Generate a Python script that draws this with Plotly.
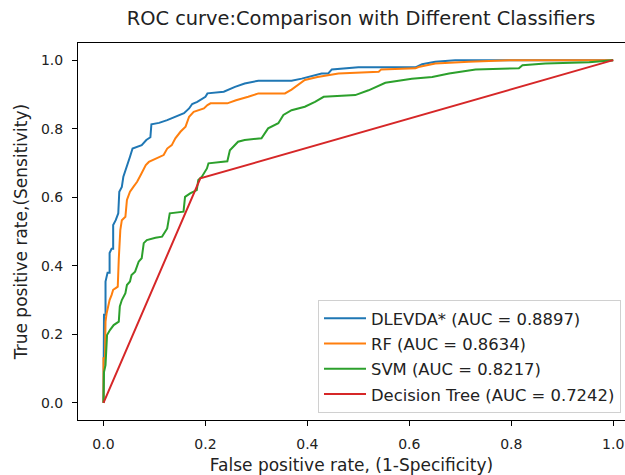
import plotly.graph_objects as go

# ---- data ----
dlevda_fpr = [0, 0, 0.001, 0.004, 0.004, 0.008, 0.012, 0.012, 0.016, 0.019, 0.019, 0.024, 0.029, 0.031,
              0.036, 0.039, 0.045, 0.052, 0.057, 0.066, 0.075, 0.084, 0.092, 0.094, 0.109, 0.125, 0.141,
              0.158, 0.168, 0.174, 0.184, 0.2, 0.204, 0.236, 0.258, 0.277, 0.304, 0.369, 0.389, 0.428,
              0.441, 0.448, 0.5, 0.612, 0.625, 0.651, 0.69, 1.0]
dlevda_tpr = [0, 0.13, 0.257, 0.257, 0.354, 0.38, 0.38, 0.437, 0.45, 0.45, 0.519, 0.533, 0.553, 0.616,
              0.63, 0.66, 0.684, 0.718, 0.742, 0.747, 0.752, 0.767, 0.775, 0.813, 0.817, 0.825, 0.835,
              0.845, 0.859, 0.872, 0.878, 0.893, 0.903, 0.908, 0.922, 0.932, 0.94, 0.94, 0.946, 0.961,
              0.961, 0.973, 0.979, 0.979, 0.988, 0.995, 1.0, 1.0]

rf_fpr = [0, 0, 0.003, 0.004, 0.006, 0.012, 0.016, 0.019, 0.024, 0.028, 0.03, 0.033, 0.036, 0.043,
          0.046, 0.052, 0.059, 0.066, 0.073, 0.083, 0.089, 0.102, 0.118, 0.125, 0.134, 0.141, 0.151,
          0.161, 0.168, 0.177, 0.197, 0.204, 0.21, 0.243, 0.26, 0.284, 0.304, 0.356, 0.369, 0.395,
          0.42, 0.461, 0.54, 0.545, 0.612, 0.618, 0.651, 0.717, 0.796, 1.0]
rf_tpr = [0, 0.13, 0.13, 0.237, 0.26, 0.3, 0.315, 0.33, 0.335, 0.339, 0.42, 0.504, 0.533, 0.543,
          0.592, 0.616, 0.631, 0.645, 0.665, 0.694, 0.703, 0.713, 0.723, 0.742, 0.752, 0.772, 0.791,
          0.806, 0.835, 0.849, 0.859, 0.869, 0.874, 0.874, 0.883, 0.893, 0.903, 0.903, 0.914, 0.942,
          0.951, 0.961, 0.966, 0.973, 0.976, 0.98, 0.99, 0.995, 1.0, 1.0]

svm_fpr = [0, 0.001, 0.004, 0.007, 0.013, 0.02, 0.03, 0.032, 0.036, 0.043, 0.046, 0.052, 0.055, 0.062,
           0.069, 0.075, 0.079, 0.085, 0.102, 0.115, 0.125, 0.13, 0.157, 0.16, 0.17, 0.183, 0.186,
           0.193, 0.203, 0.206, 0.243, 0.248, 0.264, 0.277, 0.31, 0.323, 0.343, 0.353, 0.369, 0.395,
           0.415, 0.432, 0.494, 0.52, 0.553, 0.605, 0.645, 0.678, 0.73, 0.815, 0.822, 0.867, 0.953, 1.0]
svm_tpr = [0, 0.09, 0.11, 0.198, 0.213, 0.227, 0.237, 0.281, 0.3, 0.32, 0.344, 0.354, 0.373, 0.383,
           0.412, 0.422, 0.466, 0.475, 0.482, 0.485, 0.509, 0.553, 0.558, 0.601, 0.611, 0.621, 0.65,
           0.66, 0.684, 0.699, 0.705, 0.737, 0.762, 0.767, 0.772, 0.801, 0.816, 0.84, 0.854, 0.864,
           0.878, 0.893, 0.898, 0.912, 0.934, 0.946, 0.951, 0.961, 0.973, 0.976, 0.985, 0.99, 0.994, 1.0]

dt_fpr = [0, 0.19, 1.0]
dt_tpr = [0, 0.655, 1.0]

names = ["DLEVDA* (AUC = 0.8897)", "RF (AUC = 0.8634)", "SVM (AUC = 0.8217)",
         "Decision Tree (AUC = 0.7242)"]
colors = ["#1f77b4", "#ff7f0e", "#2ca02c", "#d62728"]
tick_vals = [0.0, 0.2, 0.4, 0.6, 0.8, 1.0]
tick_text = ["0.0", "0.2", "0.4", "0.6", "0.8", "1.0"]

series = [(dlevda_fpr, dlevda_tpr), (rf_fpr, rf_tpr), (svm_fpr, svm_tpr), (dt_fpr, dt_tpr)]

fig = go.Figure()
for i, ((fx, ty), nm, col) in enumerate(zip(series, names, colors)):
    fig.add_trace(go.Scatter(x=fx, y=ty, mode="lines", name=nm, legendgroup=str(i),
                             line=dict(color=col, width=2)))

FONT = "DejaVu Sans"
W, H = 625, 475
L, T = 78, 43
BOTTOM = 420
B = H - BOTTOM
PW, PH = W - L, BOTTOM - T
fig.update_layout(
    width=W, height=H,
    margin=dict(l=L, r=0, t=T, b=B, autoexpand=False),
    paper_bgcolor="white", plot_bgcolor="white",
    font=dict(family=FONT, size=14, color="#222222"),
    title=dict(text="ROC curve:Comparison with Different Classifiers",
               x=361 / W, xref="container", xanchor="center",
               y=1 - 18 / H, yref="container", yanchor="middle",
               font=dict(family=FONT, size=19.4, color="#222222")),
    legend=dict(x=(318 - L) / PW, y=(BOTTOM - 300) / PH, xanchor="left", yanchor="top",
                bgcolor="rgba(255,255,255,0.8)", bordercolor="#d0d0d0", borderwidth=1,
                font=dict(family=FONT, size=16.4, color="#222222"), tracegroupgap=1,
                itemwidth=42),
    showlegend=True,
)
fig.update_xaxes(range=[-0.05, -0.05 + PW / 509.7], tickvals=tick_vals, ticktext=tick_text,
                 showgrid=False, zeroline=False, showline=True, linecolor="black", linewidth=1,
                 mirror=True, ticks="outside", ticklen=5, tickcolor="black", automargin=False,
                 ticklabelstandoff=6,
                 title=dict(text="False positive rate, (1-Specificity)", standoff=12))
fig.update_yaxes(range=[-0.05, 1.05], tickvals=tick_vals, ticktext=tick_text,
                 showgrid=False, zeroline=False, showline=True, linecolor="black", linewidth=1,
                 mirror=False, ticks="outside", ticklen=5, tickcolor="black", automargin=False,
                 ticklabelstandoff=6,
                 title=dict(text="True positive rate,(Sensitivity)", standoff=8))

# remove the browser's default 8px page margin so the figure sits at the window's corner
fig.write_html("out.html", config={"displayModeBar": False},
               post_script="document.body.style.margin='0';document.body.style.overflow='hidden';")
